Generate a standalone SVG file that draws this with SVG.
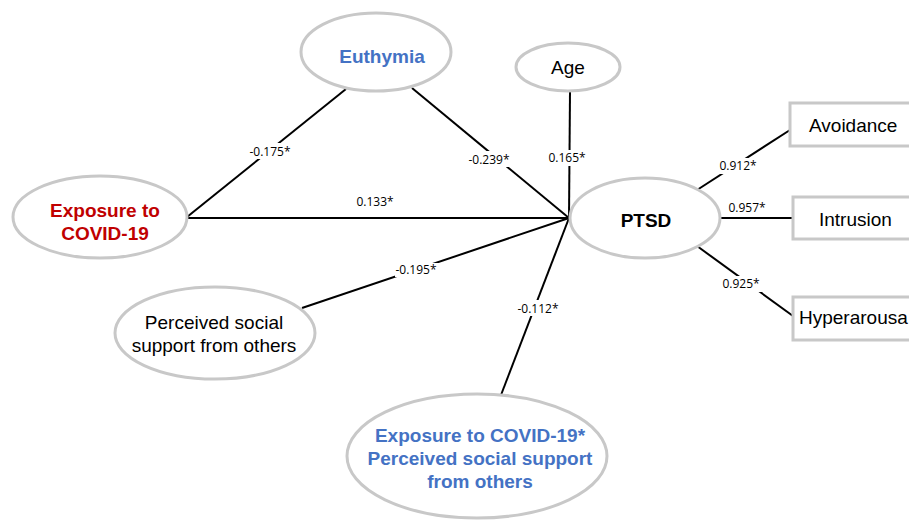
<svg xmlns="http://www.w3.org/2000/svg" width="909" height="520" viewBox="0 0 909 520">
<style>
.node{fill:#fff;stroke:#c8c8c8;stroke-width:3}
.t{font-family:"Liberation Sans",Arial,sans-serif;font-size:19px;text-anchor:middle;fill:#000}
.b{font-weight:bold}
.blue{fill:#4472c4}
.red{fill:#c00000}
.edge{stroke:#000;stroke-width:2;fill:none}
.lbl{font-family:"Open Sans","Liberation Sans",sans-serif;font-size:12px;text-anchor:middle;fill:#000}
.bg{fill:#fff}
</style>
<rect width="909" height="520" fill="#fff"/>
<g id="connectors">
<line class="edge" x1="187" y1="217" x2="346" y2="89"/>
<line class="edge" x1="412" y1="88" x2="569" y2="218"/>
<line class="edge" x1="187" y1="218" x2="569" y2="218"/>
<line class="edge" x1="570" y1="92" x2="569" y2="218"/>
<line class="edge" x1="302" y1="308" x2="569" y2="218"/>
<line class="edge" x1="501" y1="395" x2="569" y2="218"/>
<line class="edge" x1="697" y1="190" x2="790" y2="130"/>
<line class="edge" x1="719" y1="218" x2="793" y2="218"/>
<line class="edge" x1="697" y1="246" x2="793" y2="316"/>
<rect class="bg" x="247" y="143" width="46" height="16"/>
<text class="lbl" x="270" y="156">-0.175*</text>
<rect class="bg" x="466" y="151" width="46" height="16"/>
<text class="lbl" x="489" y="164">-0.239*</text>
<text class="lbl" x="375" y="206">0.133*</text>
<rect class="bg" x="546" y="150" width="42" height="16"/>
<text class="lbl" x="567" y="162">0.165*</text>
<rect class="bg" x="395" y="263" width="44" height="14"/>
<text class="lbl" x="416" y="274">-0.195*</text>
<rect class="bg" x="516" y="300" width="44" height="16"/>
<text class="lbl" x="538" y="313">-0.112*</text>
<rect class="bg" x="717" y="158" width="42" height="16"/>
<text class="lbl" x="738" y="170">0.912*</text>
<rect class="bg" x="726" y="200" width="42" height="16"/>
<text class="lbl" x="747" y="212">0.957*</text>
<rect class="bg" x="720" y="276" width="42" height="16"/>
<text class="lbl" x="741" y="288">0.925*</text>
</g>
<g id="euthymia">
<ellipse class="node" cx="376" cy="52" rx="75" ry="39"/>
<text class="t b blue" x="382" y="63">Euthymia</text>
</g>
<g id="exposure">
<ellipse class="node" cx="100" cy="217" rx="87" ry="41"/>
<text class="t b red" x="105" y="217">Exposure to</text>
<text class="t b red" x="105" y="240">COVID-19</text>
</g>
<g id="age">
<ellipse class="node" cx="568" cy="67" rx="52" ry="24"/>
<text class="t" x="568" y="74">Age</text>
</g>
<g id="ptsd">
<ellipse class="node" cx="645" cy="218" rx="75" ry="40"/>
<text class="t b" x="646" y="227">PTSD</text>
</g>
<g id="avoidance">
<rect class="node" x="790" y="103" width="130" height="43"/>
<text class="t" x="809" y="132" style="text-anchor:start">Avoidance</text>
</g>
<g id="intrusion">
<rect class="node" x="793" y="197" width="130" height="42"/>
<text class="t" x="819" y="226" style="text-anchor:start">Intrusion</text>
</g>
<g id="hyperarousal">
<rect class="node" x="793" y="297" width="130" height="43"/>
<text class="t" x="799" y="324" style="text-anchor:start">Hyperarousa</text>
</g>
<g id="pss">
<ellipse class="node" cx="215" cy="333" rx="100" ry="46"/>
<text class="t" x="214" y="329">Perceived social</text>
<text class="t" x="214" y="352">support from others</text>
</g>
<g id="interaction">
<ellipse class="node" cx="477" cy="456" rx="130" ry="62"/>
<text class="t b blue" x="480" y="442">Exposure to COVID-19*</text>
<text class="t b blue" x="480" y="465">Perceived social support</text>
<text class="t b blue" x="480" y="488">from others</text>
</g>
</svg>
